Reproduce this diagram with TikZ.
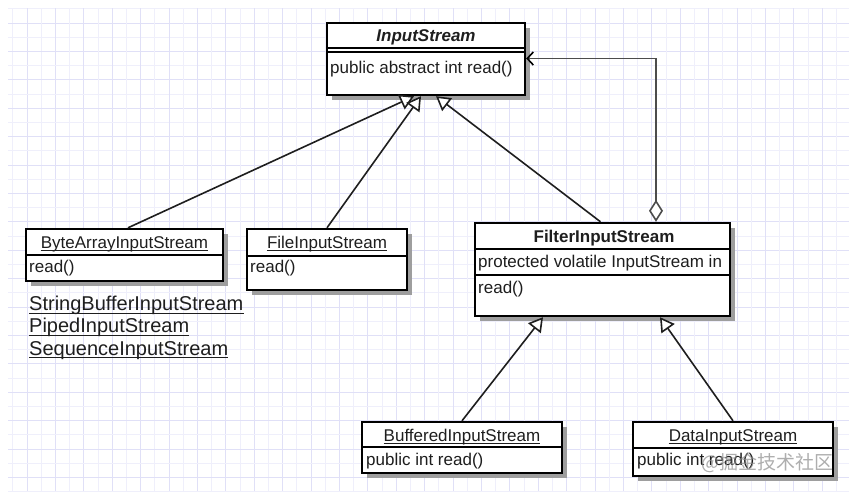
\documentclass[tikz,border=0pt]{standalone}
\usepackage{fontspec}
\setmainfont{Liberation Sans}
\newfontfamily\cjkfont{Noto Sans CJK SC}
\usetikzlibrary{arrows.meta,shadows}
\definecolor{gridmaj}{HTML}{E0E0F7}
\definecolor{gridmin}{HTML}{EFEFFB}
\definecolor{ink}{HTML}{1E1E1E}
\begin{document}
\begin{tikzpicture}[x=1pt,y=-1pt,
  box/.style={draw=black,line width=2.4pt,fill=white,inner sep=0pt,
    drop shadow={shadow xshift=5pt,shadow yshift=-5pt,fill=black!38,opacity=1}},
  div/.style={draw=black,line width=2pt},
  txt/.style={font=\fontsize{17}{20}\selectfont,text=ink,inner sep=0pt},
  big/.style={font=\fontsize{20}{24}\selectfont,text=ink,inner sep=0pt},
  uline/.style={draw=ink,line width=1.1pt},
  gen/.style={line width=1.6pt,draw=ink,-{Triangle[open,length=14pt,width=16pt,fill=white]}},
  agg/.style={line width=1.6pt,draw=black!70,{Diamond[open,length=22pt,width=14pt,fill=white]}-{Straight Barb[length=6pt,width=13pt,black]}}]
\useasboundingbox (0,0) rectangle (849,491);
\fill[white] (0,0) rectangle (849,491);
% grid
\begin{scope}
\clip (8,8) rectangle (849,491);
\foreach \k in {-1,...,59} {
  \pgfmathsetmacro{\xx}{27+14.2*\k}
  \pgfmathsetmacro{\yy}{23+14.2*\k}
  \pgfmathtruncatemacro{\odd}{mod(\k+2,2)}
  \ifnum\odd=0
    \draw[gridmaj,line width=1pt] (\xx,0) -- (\xx,491);
    \draw[gridmaj,line width=1pt] (0,\yy) -- (849,\yy);
  \else
    \draw[gridmin,line width=1pt] (\xx,0) -- (\xx,491);
    \draw[gridmin,line width=1pt] (0,\yy) -- (849,\yy);
  \fi
}
\end{scope}
% boxes
\node[box,minimum width=198pt,minimum height=72pt] (is) at (426,59) {};
\node[box,minimum width=197pt,minimum height=52pt] (bai) at (124.5,255) {};
\node[box,minimum width=160pt,minimum height=61pt] (fil) at (327,259.5) {};
\node[box,minimum width=255pt,minimum height=93pt] (fis) at (602.5,269.5) {};
\node[box,minimum width=200pt,minimum height=51pt] (bis) at (462,447.5) {};
\node[box,minimum width=200pt,minimum height=54pt] (dis) at (733,449) {};
% dividers
\draw[div] (is.west |- 0,48) -- (is.east |- 0,48);
\draw[div] (is.west |- 0,52) -- (is.east |- 0,52);
\draw[div] (bai.west |- 0,255) -- (bai.east |- 0,255);
\draw[div] (fil.west |- 0,256) -- (fil.east |- 0,256);
\draw[div] (fis.west |- 0,249) -- (fis.east |- 0,249);
\draw[div] (fis.west |- 0,275) -- (fis.east |- 0,275);
\draw[div] (bis.west |- 0,447) -- (bis.east |- 0,447);
\draw[div] (dis.west |- 0,448) -- (dis.east |- 0,448);
% texts
\node[txt,anchor=base] (ist) at (426,41.5) {\bfseries\itshape InputStream};
\node[txt,anchor=base west] (ism) at (330,73) {public abstract int read()};
\node[txt,anchor=base] (bait) at (124.5,248) {ByteArrayInputStream};
\node[txt,anchor=base west] (baim) at (29,272.5) {read()};
\node[txt,anchor=base] (filt) at (327,248) {FileInputStream};
\node[txt,anchor=base west] (film) at (250,272.5) {read()};
\node[txt,anchor=base] (fist) at (604,242.5) {\bfseries FilterInputStream};
\node[txt,anchor=base west] (fisa) at (478,267.5) {protected volatile InputStream in};
\node[txt,anchor=base west] (fism) at (478,293) {read()};
\node[txt,anchor=base] (bist) at (462,441.5) {BufferedInputStream};
\node[txt,anchor=base west] (bism) at (366,465.5) {public int read()};
\node[txt,anchor=base] (dist) at (733,441.5) {DataInputStream};
\node[txt,anchor=base west] (dism) at (637,465.5) {public int read()};
\node[big,anchor=base west] (sbis) at (29,310.5) {StringBufferInputStream};
\node[big,anchor=base west] (pis) at (29,332.5) {PipedInputStream};
\node[big,anchor=base west] (seq) at (29,355) {SequenceInputStream};
% underlines
\foreach \n in {bait,filt,bist,dist}
  \draw[uline] ([yshift=-2.3pt]\n.base west) -- ([yshift=-2.3pt]\n.base east);
\foreach \n in {sbis,pis,seq}
  \draw[uline] ([yshift=-2.6pt]\n.base west) -- ([yshift=-2.6pt]\n.base east);
% connectors
\draw[gen] ([xshift=3.5pt]bai.north) -- ([xshift=-12pt]is.south);
\draw[gen] (fil.north) -- ([xshift=-5pt]is.south);
\draw[gen] ([xshift=-2pt]fis.north) -- ([xshift=10pt]is.south);
\draw[gen] (bis.north) -- ([xshift=-59.5pt]fis.south);
\draw[gen] (dis.north) -- ([xshift=57.5pt]fis.south);
\draw[agg] ([xshift=53.5pt]fis.north) -- (656,58.5) -- (is.east |- 0,58.5);
% watermark
\node[inner sep=0pt,anchor=base east,text=black!45,opacity=0.7,font=\cjkfont\fontsize{19}{22}\selectfont] (wm) at (834,469) {@掘金技术社区};
\end{tikzpicture}
\end{document}
